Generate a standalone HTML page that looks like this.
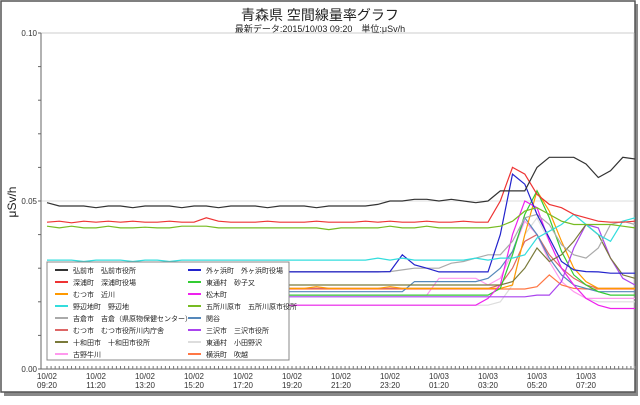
<!DOCTYPE html>
<html><head><meta charset="utf-8"><style>
body{margin:0;background:#fff;width:640px;height:400px;overflow:hidden;font-family:"Liberation Sans","Noto Sans CJK JP",sans-serif}
</style></head><body>
<svg id="c" width="640" height="400" xmlns="http://www.w3.org/2000/svg">
<rect x="4" y="4" width="634" height="392" fill="#888"/>
<rect x="1" y="1" width="634" height="391" fill="#fff" stroke="#555" stroke-width="1.5"/>
<text x="320" y="20" font-size="14" text-anchor="middle" fill="#222">青森県 空間線量率グラフ</text>
<text x="320" y="32" font-size="9" text-anchor="middle" fill="#222">最新データ:2015/10/03 09:20　単位:μSv/h</text>
<text transform="translate(16,202) rotate(-90)" font-size="12" text-anchor="middle" fill="#222">μSv/h</text>
<g id="axes"></g><g id="series"></g><g id="legend"></g>
</svg>
<script>
const categories=["10/02 09:20","10/02 11:20","10/02 13:20","10/02 15:20","10/02 17:20","10/02 19:20","10/02 21:20","10/02 23:20","10/03 01:20","10/03 03:20","10/03 05:20","10/03 07:20"];
const yTicks=[0,0.05,0.1];
const yTickLabels=["0.00","0.05","0.10"];
const names=["弘前市　弘前市役所","深浦町　深浦町役場","むつ市　近川","野辺地町　野辺地","吉倉市　吉倉（県原物保健センター）","むつ市　むつ市役所川内庁舎","十和田市　十和田市役所","古野牛川","外ヶ浜町　外ヶ浜町役場","東通村　砂子又","松木町","五所川原市　五所川原市役所","関谷","三沢市　三沢市役所","東通村　小田野沢","横浜町　吹越"];
const colors=["#333","#e33","#f90","#3dd","#aaa","#d66","#7a7a3a","#f9e","#22c","#3c3","#e2e","#7b2","#58b","#a4e","#ddd","#f74"];
const s0=[.0495,.0485,.0485,.0485,.048,.0485,.0485,.048,.0485,.0485,.0485,.048,.0485,.0485,.048,.0485,.0485,.0485,.048,.0485,.0485,.0485,.048,.0485,.0485,.0485,.0485,.049,.050,.050,.0505,.0505,.050,.0505,.050,.0495,.050,.053,.053,.053,.060,.063,.063,.063,.061,.057,.059,.063,.0625];
const s1=[.0437,.044,.0435,.044,.0437,.044,.0437,.044,.0437,.0437,.044,.0437,.0437,.045,.044,.0437,.0437,.0437,.044,.0437,.0437,.0437,.044,.0437,.0437,.0437,.044,.0437,.044,.0437,.0437,.044,.0437,.0437,.044,.0437,.0437,.050,.060,.058,.052,.049,.048,.046,.045,.044,.0437,.0437,.044];
const s2=[.024,.024,.0245,.024,.024,.024,.0245,.024,.024,.024,.024,.0245,.024,.024,.024,.024,.0245,.024,.024,.024,.024,.024,.0245,.024,.024,.024,.024,.024,.0245,.024,.024,.024,.024,.024,.024,.024,.024,.024,.025,.040,.053,.047,.038,.030,.026,.024,.024,.024,.024];
const s3=[.0324,.0324,.0324,.032,.0324,.0324,.0324,.032,.0324,.0324,.032,.0324,.0324,.0324,.0324,.0324,.0324,.0324,.0324,.0324,.0324,.0324,.0324,.0324,.0324,.0324,.0324,.033,.0324,.033,.0324,.0324,.0324,.0324,.0324,.033,.0324,.033,.033,.034,.039,.041,.043,.046,.043,.040,.038,.044,.045];
const s4=[.029,.029,.029,.0295,.029,.029,.029,.029,.029,.029,.029,.029,.029,.029,.029,.029,.0295,.0295,.029,.029,.029,.029,.029,.029,.029,.029,.029,.029,.029,.0295,.030,.030,.030,.0315,.032,.033,.034,.034,.038,.045,.046,.043,.037,.034,.033,.036,.043,.044,.043];
const s5=[.024,.024,.024,.024,.024,.024,.024,.024,.024,.024,.024,.024,.024,.024,.024,.024,.024,.024,.024,.024,.024,.024,.024,.024,.024,.024,.024,.024,.024,.024,.024,.024,.024,.024,.024,.024,.024,.025,.030,.038,.040,.034,.030,.027,.025,.024,.024,.024,.024];
const s6=[.025,.025,.025,.025,.025,.025,.025,.025,.025,.025,.025,.025,.025,.025,.025,.025,.025,.025,.025,.025,.025,.025,.025,.025,.025,.025,.025,.025,.025,.025,.025,.025,.025,.025,.025,.025,.025,.025,.026,.030,.036,.032,.034,.038,.043,.040,.033,.028,.027];
const s7=[.022,.022,.022,.022,.022,.022,.022,.022,.022,.022,.022,.022,.022,.022,.022,.022,.022,.022,.022,.022,.022,.022,.022,.022,.022,.022,.022,.022,.022,.022,.022,.022,.027,.027,.027,.027,.025,.027,.035,.044,.040,.032,.026,.023,.021,.021,.021,.021,.021];
const s8=[.0289,.0289,.0289,.0289,.0289,.0289,.0289,.0289,.0289,.0289,.0289,.0289,.0289,.0295,.0289,.0289,.0289,.0295,.0289,.0289,.0289,.0289,.0289,.0289,.0289,.0289,.0289,.0289,.029,.034,.031,.030,.0289,.0289,.0289,.0289,.0289,.040,.058,.055,.046,.039,.032,.0295,.029,.0289,.0285,.0285,.0285];
const s9=[.022,.022,.022,.022,.022,.022,.022,.022,.022,.022,.022,.022,.022,.022,.022,.022,.022,.022,.022,.022,.022,.022,.022,.022,.022,.022,.022,.022,.022,.022,.022,.022,.022,.022,.022,.022,.022,.024,.034,.046,.053,.045,.035,.028,.025,.023,.022,.022,.022];
const s10=[.019,.019,.019,.019,.019,.019,.019,.019,.019,.019,.019,.019,.019,.019,.019,.019,.019,.019,.019,.019,.019,.019,.019,.019,.019,.019,.019,.019,.019,.019,.019,.019,.019,.019,.019,.019,.021,.025,.040,.050,.048,.038,.030,.025,.021,.019,.018,.018,.018];
const s11=[.0425,.042,.0425,.042,.042,.0425,.042,.042,.0422,.042,.042,.0425,.0425,.0425,.042,.042,.042,.042,.042,.042,.042,.042,.042,.0415,.042,.042,.042,.042,.0425,.042,.042,.0425,.042,.042,.042,.042,.042,.0425,.044,.047,.048,.046,.044,.043,.043,.043,.043,.0425,.042];
const s12=[.023,.023,.023,.023,.023,.023,.023,.023,.023,.023,.023,.023,.023,.023,.023,.023,.023,.023,.023,.023,.023,.023,.023,.023,.023,.023,.023,.023,.023,.023,.026,.026,.026,.026,.026,.026,.027,.030,.035,.045,.040,.033,.028,.025,.024,.023,.023,.023,.023];
const s13=[.0215,.0215,.0215,.0215,.0215,.0215,.0215,.0215,.0215,.0215,.0215,.0215,.0215,.0215,.0215,.0215,.0215,.0215,.0215,.0215,.0215,.0215,.0215,.0215,.0215,.0215,.0215,.0215,.0215,.0215,.0215,.0215,.0215,.0215,.0215,.0215,.0215,.0215,.0215,.0215,.022,.022,.026,.036,.043,.042,.033,.027,.025];
const s14=[.019,.019,.019,.019,.019,.019,.019,.019,.019,.019,.019,.019,.019,.019,.019,.019,.019,.019,.019,.019,.019,.019,.019,.019,.019,.019,.019,.019,.019,.019,.019,.019,.019,.019,.019,.019,.019,.020,.025,.040,.045,.038,.030,.025,.021,.020,.020,.020,.020];
const s15=[.0238,.0238,.0238,.0238,.0238,.0238,.0238,.0238,.0238,.0238,.0238,.0238,.0238,.0238,.0238,.0238,.0238,.0238,.0238,.0238,.0238,.0238,.0238,.0238,.0238,.0238,.0238,.0238,.0238,.0238,.0238,.0238,.0238,.0238,.0238,.0238,.0238,.0238,.0238,.0238,.0245,.028,.025,.024,.0238,.0238,.0238,.0238,.0238];
const seriesValues=[s0,s1,s2,s3,s4,s5,s6,s7,s8,s9,s10,s11,s12,s13,s14,s15];

const NS="http://www.w3.org/2000/svg";
const X0=47,X1=635,Y0=369,Y1=33,PL=41,PR=634;
const xOf=i=>X0+(X1-X0)*i/48;
const yOf=v=>Y0-(Y0-Y1)*v/0.1;
function mk(tag,attrs,parent){const e=document.createElementNS(NS,tag);for(const k in attrs)e.setAttribute(k,attrs[k]);parent.appendChild(e);return e;}
const ax=document.getElementById('axes');
let g=mk('line',{x1:PL,x2:PR,y1:yOf(0.05),y2:yOf(0.05),stroke:'#ddd'},ax);


let t=mk('line',{x1:PL,x2:PR,y1:Y1,y2:Y1,stroke:'#ccc'},ax);


let r=mk('line',{x1:PR,x2:PR,y1:Y1,y2:Y0,stroke:'#ccc'},ax);


let la=mk('line',{x1:PL,x2:PL,y1:Y1,y2:Y0,stroke:'#666'},ax);


let ba=mk('line',{x1:PL,x2:PR,y1:Y0,y2:Y0,stroke:'#666'},ax);


for(let k=0;k<=10;k++){const yy=yOf(k*0.01);const m=mk('line',{x1:PL-3,x2:PL,y1:yy,y2:yy,stroke:'#666'},ax);

}
yTicks.forEach((v,i)=>{const tx=mk('text',{x:PL-4,y:yOf(v)+3,'font-size':8,'text-anchor':'end',fill:'#333'},ax);tx.textContent=yTickLabels[i];

});
for(let k=0;k<=144;k++){const xx=X0+(X1-X0)*k/144;const m=mk('line',{x1:xx,x2:xx,y1:Y0-3,y2:Y0,stroke:'#777'},ax);

}
categories.forEach((c,i)=>{const xx=xOf(i*4);const p=c.split(' ');
const a=mk('text',{x:xx,y:379,'font-size':8,'text-anchor':'middle',fill:'#333'},ax);a.textContent=p[0];


const b=mk('text',{x:xx,y:388,'font-size':8,'text-anchor':'middle',fill:'#333'},ax);b.textContent=p[1];

});
const sg=document.getElementById('series');
const order=[14,7,15,5,12,2,9,10,13,6,4,8,3,11,1,0];
order.forEach(si=>{const pts=seriesValues[si].map((v,i)=>xOf(i).toFixed(1)+','+yOf(v).toFixed(1)).join(' ');
const pl=mk('polyline',{points:pts,fill:'none',stroke:colors[si],'stroke-width':1.2},sg);

});
const lg=document.getElementById('legend');
const box=mk('rect',{x:47,y:262,width:242,height:98,fill:'#fff',stroke:'#888'},lg);


names.forEach((n,i)=>{const col=i<8?0:1,row=i%8;const lx=col?188:55,ly=270+row*12;
const ln=mk('line',{x1:lx,x2:lx+13,y1:ly,y2:ly,stroke:colors[i],'stroke-width':2},lg);


const tx=mk('text',{x:lx+18,y:ly+3,'font-size':7,fill:'#222'},lg);tx.textContent=n;

});
</script>
</body></html>
